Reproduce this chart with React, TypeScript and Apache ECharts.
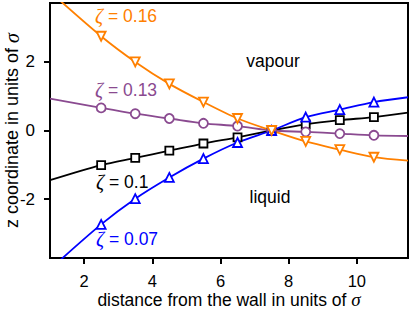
import React, { useEffect, useRef } from 'react';
import * as echarts from 'echarts';

// x positions of the sampled points (first/last are curve ends without markers)
const xValues = [1, 2.5, 3.5, 4.5, 5.5, 6.5, 7.5, 8.5, 9.5, 10.5, 11.5];
const zeta016 = [4.05, 2.75, 2.0, 1.36, 0.83, 0.35, 0, -0.32, -0.56, -0.78, -0.88];
const zeta013 = [0.93, 0.66, 0.49, 0.35, 0.21, 0.13, 0, -0.04, -0.09, -0.14, -0.16];
const zeta010 = [-1.45, -1.01, -0.8, -0.59, -0.38, -0.2, 0, 0.18, 0.3, 0.39, 0.52];
const zeta007 = [-4.05, -2.74, -1.99, -1.37, -0.82, -0.35, 0, 0.39, 0.61, 0.83, 0.97];

const xTicks = [2, 4, 6, 8, 10];
const yTicks = [-2, 0, 2];

const ORANGE = '#ff8000';
const PURPLE = '#8a4a90';
const BLACK = '#000000';
const BLUE = '#0000ff';

const SANS = 'Liberation Sans';
const SERIF = 'Liberation Serif';

function build(values: number[]) {
  return xValues.map((x, i) =>
    i === 0 || i === xValues.length - 1
      ? { value: [x, values[i]], symbol: 'none' }
      : { value: [x, values[i]] }
  );
}

function lineSeries(name: string, values: number[], color: string, symbol: string, size: number, rotate = 0) {
  return {
    name,
    type: 'line',
    data: build(values),
    smooth: 0.3,
    symbol,
    symbolSize: size,
    symbolRotate: rotate,
    showAllSymbol: true,
    lineStyle: { color, width: 1.8 },
    itemStyle: { color: '#ffffff', borderColor: color, borderWidth: 1.8 },
    emphasis: { disabled: true },
    clip: true,
  };
}

function label(x: number, y: number, value: string, color: string) {
  return {
    type: 'text',
    x,
    y,
    style: {
      text: '{z|ζ}' + ' = ' + value,
      fill: color,
      fontSize: 17.5,
      fontFamily: SANS,
      verticalAlign: 'middle',
      align: 'left',
      rich: {
        z: { fontStyle: 'italic', fontFamily: SERIF, fontSize: 20, fill: color },
      },
    },
  };
}

export default function App() {
  const ref = useRef<HTMLDivElement>(null);
  useEffect(() => {
    const chart = echarts.init(ref.current!, null, { renderer: 'svg' });
    chart.setOption({
      animation: false,
      backgroundColor: '#ffffff',
      grid: {
        left: 50,
        right: 1,
        top: 3,
        bottom: 51,
        outerBoundsMode: 'none',
        containLabel: false,
        show: true,
        borderColor: '#000',
        borderWidth: 2,
        backgroundColor: 'transparent',
      },
      xAxis: {
        type: 'value',
        min: 1,
        max: 11.5,
        axisLine: { show: true, onZero: false, lineStyle: { color: '#000', width: 2 } },
        axisTick: { show: true, length: 6, customValues: xTicks, lineStyle: { color: '#000', width: 2 } },
        axisLabel: { customValues: xTicks, margin: 15, fontSize: 16.5, lineHeight: 16, color: '#000', fontFamily: SANS },
        splitLine: { show: false },
        name: 'distance from the wall in units of {s|σ}',
        nameLocation: 'middle',
        nameGap: 33,
        nameMoveOverlap: false,
        nameTextStyle: {
          fontSize: 17.5,
          lineHeight: 17,
          color: '#000',
          fontFamily: SANS,
          rich: { s: { fontStyle: 'italic', fontFamily: SERIF, fontSize: 19, lineHeight: 17, color: '#000' } },
        },
      },
      yAxis: {
        type: 'value',
        min: -3.72,
        max: 3.72,
        axisLine: { show: true, onZero: false, lineStyle: { color: '#000', width: 2 } },
        axisTick: { show: true, length: 6, customValues: yTicks, lineStyle: { color: '#000', width: 2 } },
        axisLabel: { customValues: yTicks, margin: 15, fontSize: 17, color: '#000', fontFamily: SANS },
        splitLine: { show: false },
        name: 'z coordinate in units of {s|σ}',
        nameLocation: 'middle',
        nameGap: 28,
        nameMoveOverlap: false,
        nameTextStyle: {
          fontSize: 18,
          color: '#000',
          fontFamily: SANS,
          rich: { s: { fontStyle: 'italic', fontFamily: SERIF, fontSize: 20, color: '#000' } },
        },
      },
      series: [
        lineSeries('ζ = 0.1', zeta010, BLACK, 'rect', 8),
        lineSeries('ζ = 0.13', zeta013, PURPLE, 'circle', 9),
        lineSeries('ζ = 0.07', zeta007, BLUE, 'triangle', 9),
        lineSeries('ζ = 0.16', zeta016, ORANGE, 'triangle', 9, 180),
      ],
      graphic: [
        label(95, 16, '0.16', ORANGE),
        label(95, 90, '0.13', PURPLE),
        label(96, 182, '0.1', BLACK),
        label(96, 239, '0.07', BLUE),
        {
          type: 'text',
          x: 273,
          y: 61,
          style: { text: 'vapour', fill: '#000', fontSize: 17.5, fontFamily: SANS, align: 'center', verticalAlign: 'middle' },
        },
        {
          type: 'text',
          x: 270,
          y: 197,
          style: { text: 'liquid', fill: '#000', fontSize: 17.5, fontFamily: SANS, align: 'center', verticalAlign: 'middle' },
        },
      ],
    });
    return () => chart.dispose();
  }, []);
  return (
    <div
      ref={ref}
      style={{ position: 'fixed', left: 0, top: 0, width: 409, height: 309, background: '#fff' }}
    />
  );
}
